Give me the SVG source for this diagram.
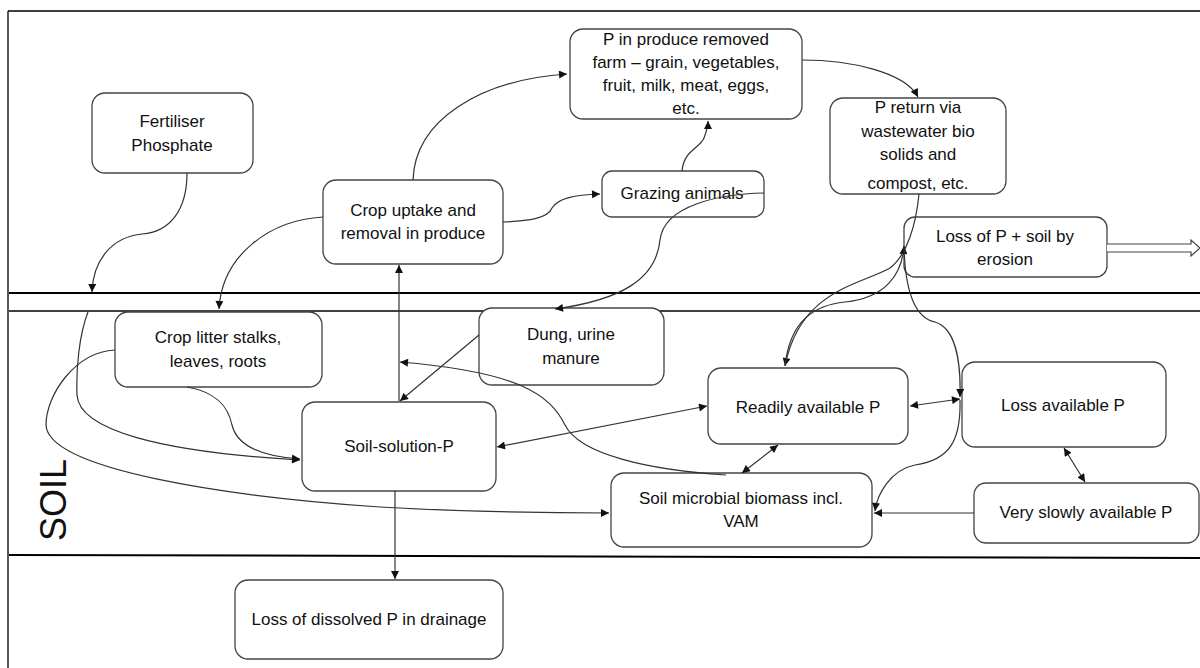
<svg xmlns="http://www.w3.org/2000/svg" width="1200" height="668" viewBox="0 0 1200 668">
<style>
.box{fill:#fff;stroke:#444;stroke-width:1.3}
.t{font-family:"Liberation Sans",Arial,sans-serif;font-size:17px;fill:#111;text-anchor:middle}
.c{fill:none;stroke:#333;stroke-width:1.2}
.ea{marker-end:url(#ah)}
.ba{marker-start:url(#ah);marker-end:url(#ah)}
.ln{stroke:#000;fill:none}
</style>
<defs>
<marker id="ah" viewBox="0 0 10 10" refX="10" refY="5" markerWidth="9" markerHeight="8" markerUnits="userSpaceOnUse" orient="auto-start-reverse">
<path d="M0,0 L10,5 L0,10 z" fill="#111"/>
</marker>
</defs>
<rect width="1200" height="668" fill="#fff"/>
<g id="frame">
<path class="ln" d="M8,11 H1200 M8,11 V668" stroke-width="1.3"/>
<path class="ln" d="M9,293 H1200" stroke-width="2.2"/>
<path class="ln" d="M9,311 H1200" stroke-width="1.4"/>
<path class="ln" d="M9,555 L1200,558" stroke-width="2"/>
<text font-family="Liberation Sans,Arial,sans-serif" font-size="36" fill="#111" text-anchor="middle" transform="translate(66,500) rotate(-90)">SOIL</text>
</g>
<g id="fertiliser"><rect class="box" x="92" y="93" width="161" height="80" rx="13"/>
<text class="t" x="172" y="127">Fertiliser</text><text class="t" x="172" y="151">Phosphate</text></g>
<g id="produce"><rect class="box" x="570" y="29" width="232" height="90" rx="13"/>
<text class="t" x="686" y="45">P in produce removed</text><text class="t" x="686" y="68">farm – grain, vegetables,</text><text class="t" x="686" y="91">fruit, milk, meat, eggs,</text><text class="t" x="686" y="114">etc.</text></g>
<g id="return"><rect class="box" x="830" y="98" width="176" height="96" rx="13"/>
<text class="t" x="918" y="113">P return via</text><text class="t" x="918" y="137">wastewater bio</text><text class="t" x="918" y="160">solids and</text><text class="t" x="918" y="189">compost, etc.</text></g>
<g id="crop"><rect class="box" x="323" y="180" width="180" height="84" rx="13"/>
<text class="t" x="413" y="216">Crop uptake and</text><text class="t" x="413" y="239">removal in produce</text></g>
<g id="grazing"><rect class="box" x="602" y="171" width="162" height="46" rx="10"/>
<text class="t" x="682" y="199">Grazing animals</text></g>
<g id="erosion"><rect class="box" x="904" y="217" width="203" height="60" rx="11"/>
<text class="t" x="1005" y="242">Loss of P + soil by</text><text class="t" x="1005" y="265">erosion</text>
<path d="M1107,244 H1191 V240 L1200,248 L1191,256 V252 H1107" fill="#fff" stroke="#444" stroke-width="1.2"/></g>
<g id="litter"><rect class="box" x="115" y="312" width="207" height="75" rx="13"/>
<text class="t" x="218" y="343">Crop litter stalks,</text><text class="t" x="218" y="367">leaves, roots</text></g>
<g id="dung"><rect class="box" x="479" y="308" width="185" height="77" rx="13"/>
<text class="t" x="571" y="340">Dung, urine</text><text class="t" x="571" y="364">manure</text></g>
<g id="solution"><rect class="box" x="302" y="402" width="194" height="89" rx="13"/>
<text class="t" x="399" y="452" font-size="19.5">Soil-solution-P</text></g>
<g id="drainage"><rect class="box" x="235" y="580" width="268" height="79" rx="13"/>
<text class="t" x="369" y="625">Loss of dissolved P in drainage</text></g>
<g id="readily"><rect class="box" x="708" y="368" width="200" height="76" rx="13"/>
<text class="t" x="808" y="413">Readily available P</text></g>
<g id="lossavail"><rect class="box" x="962" y="362" width="204" height="85" rx="13"/>
<text class="t" x="1063" y="411" font-size="18">Loss available P</text></g>
<g id="microbial"><rect class="box" x="611" y="473" width="261" height="74" rx="13"/>
<text class="t" x="741" y="504">Soil microbial biomass incl.</text><text class="t" x="741" y="527">VAM</text></g>
<g id="veryslow"><rect class="box" x="974" y="483" width="225" height="60" rx="12"/>
<text class="t" x="1086" y="518">Very slowly available P</text></g>
<g id="connectors">
<path class="c ea" d="M187,173 C187,210 170,232 142,234 C112,237 93,260 92,292"/>
<path class="c ea" d="M88,312 C79,335 76,370 77,395 C79,430 160,452 300,460"/>
<path class="c ea" d="M187,387 C215,392 228,405 232,425 C238,450 270,457 300,459"/>
<path class="c ea" d="M115,350 C75,352 46,395 46,425 C48,470 230,497 380,507 C470,512 560,513 609,513"/>
<path class="c ea" d="M323,217 C270,220 222,255 219,309"/>
<path class="c ea" d="M413,180 C415,120 480,80 567,74"/>
<path class="c ea" d="M503,222 C530,221 548,218 552,208 C558,198 575,195 600,194"/>
<path class="c ea" d="M682,171 C684,150 700,148 704,138 C707,130 708,125 708,121"/>
<path class="c ea" d="M764,193 C720,194 664,205 660,240 C656,280 620,300 555,309"/>
<path class="c ea" d="M802,60 C850,60 905,72 918,97"/>
<path class="c ea" d="M919,194 C916,225 907,255 890,268 C860,285 800,290 785,366"/>
<path class="c ea" d="M785,366 C790,320 815,305 845,302 C885,298 902,275 904,246"/>
<path class="c ea" d="M904,246 C905,290 915,318 935,322 C955,328 961,360 960,397"/>
<path class="c ea" d="M960,400 C961,440 950,460 915,465 C890,470 877,495 875,511"/>
<path class="c ba" d="M910,406 L960,399"/>
<path class="c ba" d="M497,447 L707,406"/>
<path class="c ba" d="M778,445 L742,473"/>
<path class="c ba" d="M1064,448 L1085,482"/>
<path class="c ea" d="M974,513 L874,513"/>
<path class="c ea" d="M479,335 L400,401"/>
<path class="c ea" d="M399,401 L399,265"/>
<path class="c ea" d="M726,475 C650,470 580,455 565,425 C550,395 520,372 400,362"/>
<path class="c ea" d="M395,491 L395,579"/>
</g>
</svg>
